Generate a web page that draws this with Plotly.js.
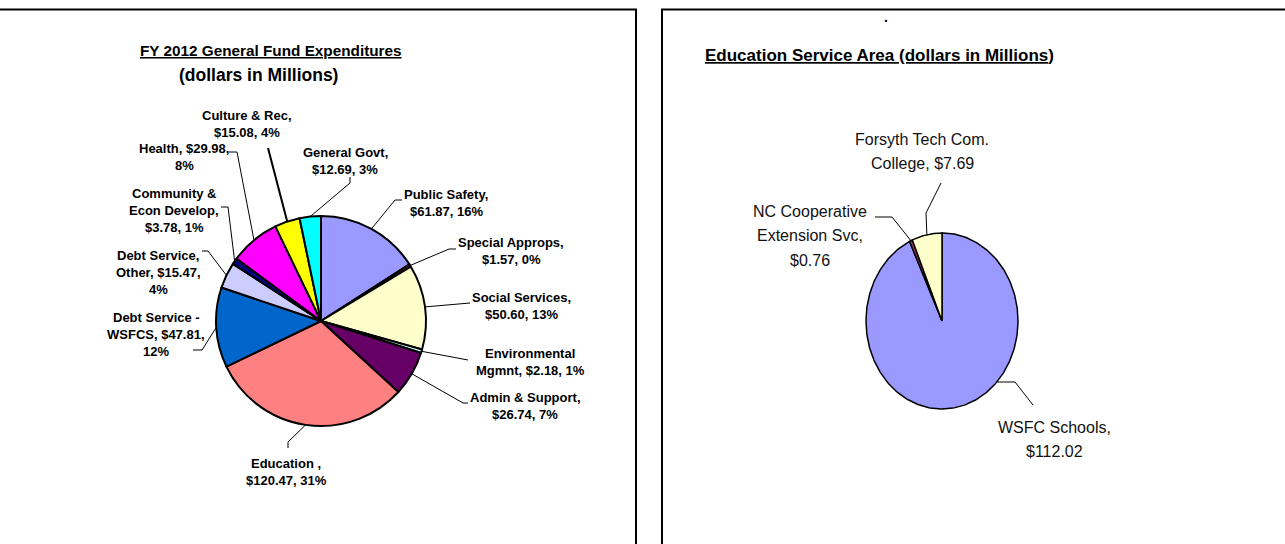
<!DOCTYPE html>
<html><head><meta charset="utf-8">
<script src="https://cdn.plot.ly/plotly-3.0.1.min.js"></script>
<style>html,body{margin:0;padding:0;background:#fff}#chart{width:1285px;height:544px}</style>
</head><body><div id="chart"></div>
<script>
// ---------------- DATA ----------------
// FY 2012 General Fund Expenditures ($ millions), clockwise from 12 o'clock
const fundCategories = ["Public Safety","Special Approps","Social Services","Environmental Mgmnt","Admin & Support","Education","Debt Service - WSFCS","Debt Service, Other","Community & Econ Develop","Health","Culture & Rec","General Govt"];
const fundValues = [61.87, 1.57, 50.60, 2.18, 26.74, 120.47, 47.81, 15.47, 3.78, 29.98, 15.08, 12.69];
const fundLabels = [
  "Public Safety,<br>$61.87, 16%",
  "Special Approps,<br>$1.57, 0%",
  "Social Services,<br>$50.60, 13%",
  "Environmental<br>Mgmnt, $2.18, 1%",
  "Admin & Support,<br>$26.74, 7%",
  "Education ,<br>$120.47, 31%",
  "Debt Service -<br>WSFCS, $47.81,<br>12%",
  "Debt Service,<br>Other, $15.47,<br>4%",
  "Community &<br>Econ Develop,<br>$3.78, 1%",
  "Health, $29.98,<br>8%",
  "Culture & Rec,<br>$15.08, 4%",
  "General Govt,<br>$12.69, 3%"
];
// Education Service Area ($ millions), clockwise from 12 o'clock
const eduCategories = ["WSFC Schools","NC Cooperative Extension Svc","Forsyth Tech Com. College"];
const eduValues = [112.02, 0.76, 7.69];
const eduLabels = ["WSFC Schools,<br>$112.02","NC Cooperative<br>Extension Svc,<br>$0.76","Forsyth Tech Com.<br>College, $7.69"];

const fundTitle1 = "FY 2012 General Fund Expenditures";
const fundTitle2 = "(dollars in Millions)";
const eduTitle = "Education Service Area (dollars in Millions";

// ---------------- STYLE / LAYOUT ----------------
const W = 1285, H = 544;
const fundColors = ["#9999FF","#993366","#FFFFCC","#CCFFFF","#660066","#FF8080","#0066CC","#CCCCFF","#000080","#FF00FF","#FFFF00","#00FFFF"];
const eduColors = ["#9999FF","#993366","#FFFFCC"];
const fundPie = {cx: 321, cy: 321, r: 105};
const eduPie = {cx: 942, cy: 321, rx: 76, ry: 88};
const FONT = "Arial, 'Liberation Sans', sans-serif";

// label placement (pixel): x center, y of first line, leader path after the slice anchor
const fundLabelPos = [
  {x:446, y:194, path:[[395,200],[402,200]]},
  {x:511, y:242, path:[[449,249],[456,249]]},
  {x:521, y:297, path:[[470,303]]},
  {x:530, y:353, path:[[468,360]]},
  {x:525, y:397, path:[[463,403],[468,403]]},
  {x:286, y:463, path:[[288,442],[288,448]]},
  {x:156, y:317, path:[[202,350],[193,350]]},
  {x:158, y:255, path:[[208,251],[202,251]]},
  {x:174, y:193, path:[[228,207],[221,207]]},
  {x:184, y:148, path:[[237,152],[229,152]]},
  {x:247, y:115, path:[[268,148]], w:2},
  {x:345, y:152, path:[[350,183],[350,177]]}
];
const eduLabelPos = [
  {x:1054, y:427, path:[[1015,382],[1033,405]], anchor:'level'},
  {x:810, y:211, path:[[892,217],[875,217]]},
  {x:922, y:139, path:[[926,213],[941,183]]}
];

function angles(values){
  const tot = values.reduce((a,b)=>a+b,0);
  let c = 0;
  return values.map(v => { const a0 = c/tot*2*Math.PI; c += v; const a1 = c/tot*2*Math.PI; return {a0, a1, mid:(a0+a1)/2}; });
}

const traces = [];
const annotations = [];

// pixel-space helper axes (x,y) for leader lines; unit-space axes (x2,y2) for the elliptical pie
function leader(pts, w){
  traces.push({type:'scatter', mode:'lines', xaxis:'x', yaxis:'y', x:pts.map(p=>p[0]), y:pts.map(p=>p[1]),
    line:{color:'#000', width:w||1}, hoverinfo:'skip', showlegend:false});
}
function addLabel(text, x, y0, gap, font){
  text.split('<br>').forEach((ln,i) => annotations.push({xref:'x', yref:'y', x:x, y:y0+i*gap, text:ln,
    showarrow:false, xanchor:'center', yanchor:'middle', font:font}));
}

// ---- left pie (real pie trace)
traces.push({
  type:'pie', values:fundValues, labels:fundCategories, sort:false, direction:'clockwise', rotation:0,
  marker:{colors:fundColors, line:{color:'#000', width:2}}, textinfo:'none', hoverinfo:'label+value+percent',
  showlegend:false,
  domain:{x:[(fundPie.cx-fundPie.r)/W, (fundPie.cx+fundPie.r)/W], y:[1-(fundPie.cy+fundPie.r)/H, 1-(fundPie.cy-fundPie.r)/H]}
});
angles(fundValues).forEach((a,i) => {
  const lp = fundLabelPos[i];
  const start = [fundPie.cx + fundPie.r*Math.sin(a.mid), fundPie.cy - fundPie.r*Math.cos(a.mid)];
  leader([start].concat(lp.path), lp.w);
  addLabel(fundLabels[i], lp.x, lp.y, 17, {family:FONT, size:13, color:'#000', weight:'bold'});
});

// ---- right pie (elliptical, slices drawn as filled polygons on unit axes)
angles(eduValues).forEach((a,i) => {
  const xs=[0], ys=[0];
  const n = Math.max(4, Math.ceil((a.a1-a.a0)/(Math.PI/180)));
  for(let k=0;k<=n;k++){ const t = a.a0 + (a.a1-a.a0)*k/n; xs.push(Math.sin(t)); ys.push(Math.cos(t)); }
  xs.push(0); ys.push(0);
  traces.push({type:'scatter', mode:'lines', xaxis:'x2', yaxis:'y2', x:xs, y:ys, fill:'toself',
    fillcolor:eduColors[i], line:{color:'#000', width:1.5}, name:eduCategories[i], hoverinfo:'name', showlegend:false});
  const lp = eduLabelPos[i];
  let start;
  if(lp.anchor === 'level'){
    const yy = lp.path[0][1];
    const v = (eduPie.cy - yy)/eduPie.ry;
    const u = Math.sqrt(Math.max(0, 1 - v*v)) * Math.sign(lp.path[0][0]-eduPie.cx);
    start = [eduPie.cx + eduPie.rx*u, yy];
  } else {
    start = [eduPie.cx + eduPie.rx*Math.sin(a.mid), eduPie.cy - eduPie.ry*Math.cos(a.mid)];
  }
  leader([start].concat(lp.path), 1);
  addLabel(eduLabels[i], lp.x, lp.y, 24.5, {family:FONT, size:16, color:'#111'});
});

// titles
annotations.push({xref:'x', yref:'y', x:270.5, y:50, showarrow:false, xanchor:'center', yanchor:'middle',
  text:'<span style="text-decoration:underline">'+fundTitle1+'</span>', font:{family:FONT, size:15.3, color:'#000', weight:'bold'}});
annotations.push({xref:'x', yref:'y', x:258, y:75, showarrow:false, xanchor:'center', yanchor:'middle',
  text:fundTitle2, font:{family:FONT, size:17.5, color:'#000', weight:'bold'}});
annotations.push({xref:'x', yref:'y', x:879, y:55, showarrow:false, xanchor:'center', yanchor:'middle',
  text:'<span style="text-decoration:underline">'+eduTitle+'</span>)', font:{family:FONT, size:17, color:'#000', weight:'bold'}});
annotations.push({xref:'x', yref:'y', x:886, y:17, showarrow:false, xanchor:'center', yanchor:'middle',
  text:'.', font:{family:FONT, size:14, color:'#000', weight:'bold'}});

const layout = {
  width:W, height:H, margin:{l:0,r:0,t:0,b:0}, paper_bgcolor:'#fff', plot_bgcolor:'rgba(0,0,0,0)',
  showlegend:false,
  xaxis:{range:[0,W], visible:false, fixedrange:true, domain:[0,1]},
  yaxis:{range:[H,0], visible:false, fixedrange:true, domain:[0,1]},
  xaxis2:{range:[-eduPie.cx/eduPie.rx, (W-eduPie.cx)/eduPie.rx], visible:false, fixedrange:true, overlaying:'x', anchor:'y2'},
  yaxis2:{range:[(eduPie.cy-H)/eduPie.ry, eduPie.cy/eduPie.ry], visible:false, fixedrange:true, overlaying:'y', anchor:'x2'},
  shapes:[
    {type:'rect', xref:'x', yref:'y', x0:-10, x1:636, y0:9.5, y1:H+20, line:{color:'#000', width:2}},
    {type:'rect', xref:'x', yref:'y', x0:662, x1:W+20, y0:9.5, y1:H+20, line:{color:'#000', width:2}}
  ],
  annotations:annotations
};
Plotly.newPlot('chart', traces, layout, {displayModeBar:false, staticPlot:true});
</script></body></html>
